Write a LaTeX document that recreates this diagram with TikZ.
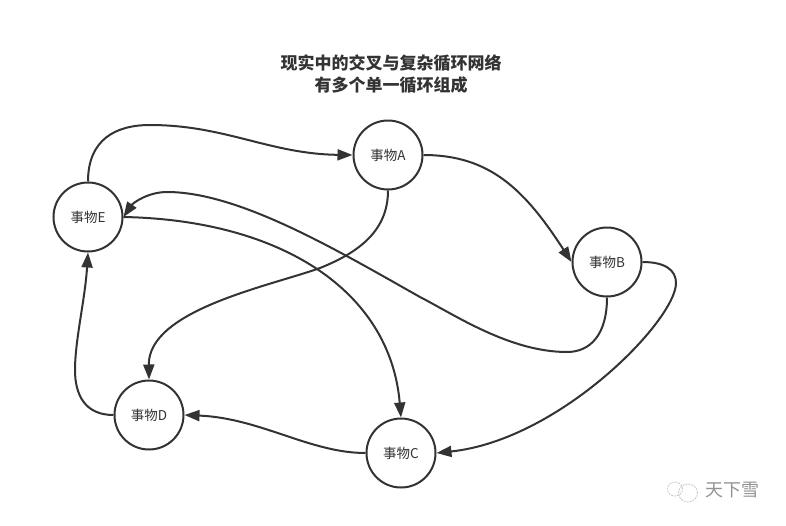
\documentclass[tikz,border=0pt]{standalone}
\usepackage{fontspec}
\setmainfont{Noto Sans CJK SC}
\usetikzlibrary{arrows.meta}
\definecolor{ink}{HTML}{333333}
\tikzset{
 x=1pt,y=-1pt,
 thing/.style={circle,draw=ink,line width=2pt,minimum size=69pt,inner sep=0pt,font=\fontsize{13.5}{15}\selectfont,text=ink},
 link/.style={draw=ink,line width=2pt,-{Triangle[length=15pt,width=11pt]}},
 title/.style={font=\fontsize{17}{22}\bfseries\selectfont,text=ink,align=center},
 mark bubble/.style={draw=gray!45,line width=0.8pt,dash pattern=on 2pt off 1pt}
}
\begin{document}
\begin{tikzpicture}
\useasboundingbox (0,0) rectangle (786,525);
\fill[white] (0,0) rectangle (786,525);
\node[title] (t) at (391,74) {现实中的交叉与复杂循环网络\\有多个单一循环组成};
\node[thing] (A) at (388,155) {事物A};
\node[thing] (B) at (607,262) {事物B};
\node[thing] (C) at (401,453) {事物C};
\node[thing] (D) at (149,415) {事物D};
\node[thing] (E) at (88,217) {事物E};
\draw[link] (E.north) .. controls (88,140) and (115,125) .. (150,125) .. controls (225,125) and (270,154) .. (A.west);
\draw[link] (A.east) .. controls (490,155) and (525,190) .. (B.west);
\draw[link] (B.east) .. controls (665,262) and (676,270) .. (676,283) .. controls (676,320) and (560,440) .. (C.east);
\draw[link] (C.west) .. controls (310,453) and (260,418) .. (D.east);
\draw[link] (D.west) .. controls (85,415) and (75,395) .. (75,370) .. controls (75,340) and (85,300) .. (E.south);
\draw[link] (E.east) .. controls (280,220) and (390,290) .. (C.north);
\draw[link] (A.south) .. controls (388,230) and (360,252) .. (320,268) .. controls (270,286) and (148,310) .. (D.north);
\draw[link] (B.south) .. controls (607,335) and (590,352) .. (567,352) .. controls (510,352) and (455,315) .. (420,297) .. controls (340,252) and (240,192) .. (167,192) .. controls (148,192) and (133,203) .. (E.east);
\node[font=\fontsize{18}{20}\selectfont,text=gray!85] (w) at (732,490) {天下雪};
\draw[mark bubble] (688,493) ellipse (9.5pt and 9pt);
\draw[mark bubble] (675,489) ellipse (7.5pt and 7pt);
\end{tikzpicture}
\end{document}
